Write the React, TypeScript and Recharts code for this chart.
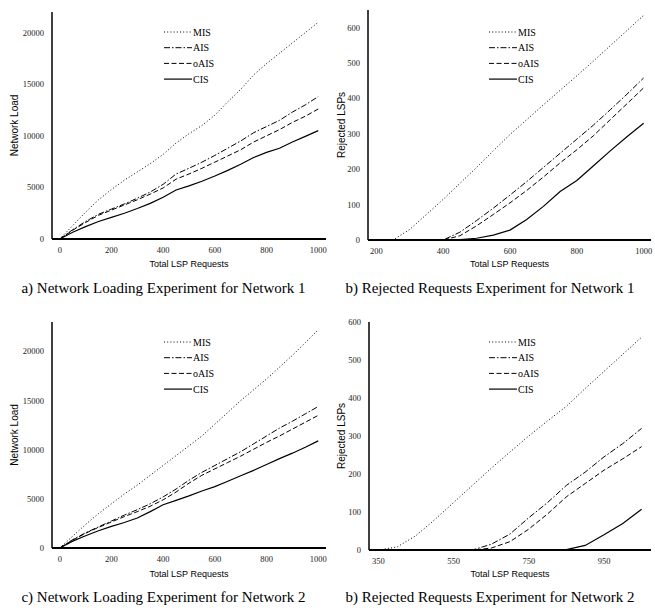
import { Legend, Line, LineChart, XAxis, YAxis } from "recharts";

const SERIF = "'Liberation Serif', 'Times New Roman', serif";
const SANS = "'Liberation Sans', Arial, sans-serif";

// network loading experiments (x = total LSP requests)
const loadX = [0, 50, 100, 150, 200, 250, 300, 350, 400, 450, 500, 550, 600, 650, 700, 750, 800, 850, 900, 950, 1000];
const loadMis1 = [0, 1300, 2600, 3800, 4800, 5700, 6500, 7300, 8200, 9300, 10200, 11000, 12000, 13300, 14500, 15900, 17000, 18000, 19000, 20000, 21000];
const loadAis1 = [0, 900, 1700, 2400, 2900, 3400, 3950, 4550, 5300, 6300, 6850, 7450, 8100, 8800, 9500, 10300, 10900, 11500, 12300, 13000, 13800];
const loadOais1 = [0, 850, 1600, 2300, 2800, 3300, 3800, 4350, 4950, 5800, 6300, 6850, 7450, 8050, 8650, 9400, 10000, 10600, 11300, 11900, 12600];
const loadCis1 = [0, 650, 1200, 1700, 2100, 2500, 2950, 3450, 4050, 4750, 5150, 5600, 6100, 6650, 7250, 7900, 8400, 8800, 9400, 9950, 10500];

const loadMis2 = [0, 1200, 2400, 3500, 4500, 5500, 6400, 7400, 8400, 9400, 10400, 11400, 12600, 13800, 15000, 16100, 17200, 18400, 19600, 20900, 22200];
const loadAis2 = [0, 850, 1550, 2150, 2750, 3350, 3900, 4500, 5200, 6000, 6900, 7700, 8400, 9100, 9800, 10600, 11400, 12200, 12900, 13650, 14400];
const loadOais2 = [0, 800, 1500, 2100, 2650, 3200, 3700, 4250, 4900, 5700, 6600, 7400, 8050, 8700, 9350, 10050, 10750, 11400, 12100, 12800, 13500];
const loadCis2 = [0, 700, 1250, 1750, 2200, 2600, 3050, 3700, 4400, 4850, 5300, 5800, 6250, 6800, 7350, 7900, 8500, 9100, 9650, 10250, 10900];

// rejected requests experiments
const rejX1 = [200, 250, 300, 350, 400, 450, 500, 550, 600, 650, 700, 750, 800, 850, 900, 950, 1000];
const rejMis1 = [0, 0, 30, 72, 115, 160, 205, 252, 298, 340, 382, 423, 464, 506, 549, 592, 635];
const rejAis1 = [0, 0, 0, 0, 0, 22, 55, 90, 127, 165, 205, 245, 285, 325, 368, 412, 458];
const rejOais1 = [0, 0, 0, 0, 0, 12, 40, 72, 105, 140, 178, 218, 255, 295, 340, 385, 430];
const rejCis1 = [0, 0, 0, 0, 0, 1, 5, 14, 28, 58, 95, 137, 168, 210, 252, 292, 330];

const rejX2 = [350, 400, 450, 500, 550, 600, 650, 700, 750, 800, 850, 900, 950, 1000, 1050];
const rejMis2 = [0, 8, 38, 80, 125, 170, 215, 258, 300, 340, 378, 425, 470, 515, 560];
const rejAis2 = [0, 0, 0, 0, 0, 0, 15, 42, 85, 125, 170, 205, 245, 280, 320];
const rejOais2 = [0, 0, 0, 0, 0, 0, 5, 22, 55, 95, 140, 175, 210, 240, 272];
const rejCis2 = [0, 0, 0, 0, 0, 0, 0, 0, 0, 0, 1, 12, 40, 70, 107];

const loadTicksX = [0, 200, 400, 600, 800, 1000];
const loadTicksY = [0, 5000, 10000, 15000, 20000];
const rejTicksX1 = [200, 400, 600, 800, 1000];
const rejTicksX2 = [350, 550, 750, 950];
const rejTicksY = [0, 100, 200, 300, 400, 500, 600];

const SERIES = [
	{ key: "MIS", dash: "1 2.2", width: 1 },
	{ key: "AIS", dash: "6 2 1.5 2", width: 1 },
	{ key: "oAIS", dash: "5 2.5", width: 1 },
	{ key: "CIS", dash: undefined, width: 1.2 },
];

function makeRows(xs: number[], mis: number[], ais: number[], oais: number[], cis: number[]) {
	return xs.map((x, i) => ({ x, MIS: mis[i], AIS: ais[i], oAIS: oais[i], CIS: cis[i] }));
}

function LegendBox() {
	return (
		<svg width={70} height={64}>
			{SERIES.map((s, i) => {
				const y = 6 + i * 15.7;
				return (
					<g key={s.key}>
						<line x1={2} x2={30} y1={y} y2={y} stroke="#000" strokeWidth={s.width} strokeDasharray={s.dash} />
						<text x={31} y={y} dy="0.35em" fontFamily={SERIF} fontSize={10} fill="#000">
							{s.key}
						</text>
					</g>
				);
			})}
		</svg>
	);
}

interface PanelProps {
	left: number;
	top: number;
	height: number;
	marginTop: number;
	yAxisWidth: number;
	xAxisHeight: number;
	rows: ReturnType<typeof makeRows>;
	xDomain: [number, number];
	xTicks: number[];
	yDomain: [number, number];
	yTicks: number[];
	yLabel: string;
	yLabelOffset: number;
	legendTop: number;
}

function Panel(p: PanelProps) {
	return (
		<div style={{ position: "absolute", left: p.left, top: p.top }}>
			<LineChart
				width={330}
				height={p.height}
				data={p.rows}
				margin={{ top: p.marginTop, right: 4, left: 0, bottom: 0 }}
			>
				<XAxis
					dataKey="x"
					type="number"
					domain={p.xDomain}
					ticks={p.xTicks}
					height={p.xAxisHeight}
					tickSize={0}
					tickMargin={8}
					axisLine={{ stroke: "#000", strokeWidth: 2 }}
					tick={{ fontFamily: SERIF, fontSize: 8.5, fill: "#222" }}
					label={{
						value: "Total LSP Requests",
						position: "insideBottom",
						offset: 8,
						fontFamily: SANS,
						fontSize: 9,
						fill: "#000",
					}}
				/>
				{/* frame: top and right edges drawn as bare axes */}
				<XAxis
					xAxisId="frame"
					orientation="top"
					dataKey="x"
					type="number"
					domain={p.xDomain}
					height={0}
					tick={false}
					tickLine={false}
					axisLine={{ stroke: "#444", strokeWidth: 1.2 }}
				/>
				<YAxis
					yAxisId="frame"
					orientation="right"
					type="number"
					domain={p.yDomain}
					width={0}
					tick={false}
					tickLine={false}
					axisLine={{ stroke: "#444", strokeWidth: 1.2 }}
				/>
				<YAxis
					type="number"
					domain={p.yDomain}
					ticks={p.yTicks}
					width={p.yAxisWidth}
					tickSize={0}
					tickMargin={8}
					axisLine={{ stroke: "#000", strokeWidth: 1.5 }}
					tick={{ fontFamily: SERIF, fontSize: 8.5, fill: "#222" }}
					label={{
						value: p.yLabel,
						angle: -90,
						position: "insideLeft",
						offset: p.yLabelOffset,
						textAnchor: "middle",
						fontFamily: SANS,
						fontSize: 10,
						fill: "#000",
					}}
				/>
				{SERIES.map((s) => (
					<Line
						key={s.key}
						type="linear"
						dataKey={s.key}
						stroke="#000"
						strokeWidth={s.width}
						strokeDasharray={s.dash}
						dot={false}
						isAnimationActive={false}
					/>
				))}
				<Legend
					layout="vertical"
					align="center"
					verticalAlign="middle"
					wrapperStyle={{ left: 162, top: p.legendTop, width: 70, height: 64 }}
					content={() => <LegendBox />}
				/>
			</LineChart>
		</div>
	);
}

const captionStyle = {
	position: "absolute" as const,
	fontFamily: SERIF,
	fontSize: 15,
	lineHeight: "15px",
	textAlign: "center" as const,
	whiteSpace: "nowrap" as const,
	color: "#000",
};

export default function App() {
	return (
		<div style={{ position: "absolute", left: 0, top: 0, width: 655, height: 612, background: "#fff" }}>
			<Panel
				left={0}
				top={0}
				height={275}
				marginTop={12}
				yAxisWidth={52}
				xAxisHeight={36}
				rows={makeRows(loadX, loadMis1, loadAis1, loadOais1, loadCis1)}
				xDomain={[-30, 1030]}
				xTicks={loadTicksX}
				yDomain={[0, 22000]}
				yTicks={loadTicksY}
				yLabel="Network Load"
				yLabelOffset={14}
				legendTop={26}
			/>
			<Panel
				left={325}
				top={0}
				height={275}
				marginTop={10}
				yAxisWidth={43}
				xAxisHeight={35}
				rows={makeRows(rejX1, rejMis1, rejAis1, rejOais1, rejCis1)}
				xDomain={[175, 1022]}
				xTicks={rejTicksX1}
				yDomain={[0, 650]}
				yTicks={rejTicksY}
				yLabel="Rejected LSPs"
				yLabelOffset={16}
				legendTop={26}
			/>
			<Panel
				left={0}
				top={300}
				height={285}
				marginTop={22}
				yAxisWidth={52}
				xAxisHeight={37}
				rows={makeRows(loadX, loadMis2, loadAis2, loadOais2, loadCis2)}
				xDomain={[-30, 1030]}
				xTicks={loadTicksX}
				yDomain={[0, 23000]}
				yTicks={loadTicksY}
				yLabel="Network Load"
				yLabelOffset={14}
				legendTop={36}
			/>
			<Panel
				left={325}
				top={300}
				height={285}
				marginTop={22}
				yAxisWidth={44}
				xAxisHeight={35}
				rows={makeRows(rejX2, rejMis2, rejAis2, rejOais2, rejCis2)}
				xDomain={[325, 1075]}
				xTicks={rejTicksX2}
				yDomain={[0, 600]}
				yTicks={rejTicksY}
				yLabel="Rejected LSPs"
				yLabelOffset={16}
				legendTop={36}
			/>
			<div style={{ ...captionStyle, left: 0, top: 281, width: 327 }}>
				a) Network Loading Experiment for Network 1
			</div>
			<div style={{ ...captionStyle, left: 327, top: 281, width: 326 }}>
				b) Rejected Requests Experiment for Network 1
			</div>
			<div style={{ ...captionStyle, left: 0, top: 590, width: 327 }}>
				c) Network Loading Experiment for Network 2
			</div>
			<div style={{ ...captionStyle, left: 327, top: 590, width: 326 }}>
				b) Rejected Requests Experiment for Network 2
			</div>
		</div>
	);
}
